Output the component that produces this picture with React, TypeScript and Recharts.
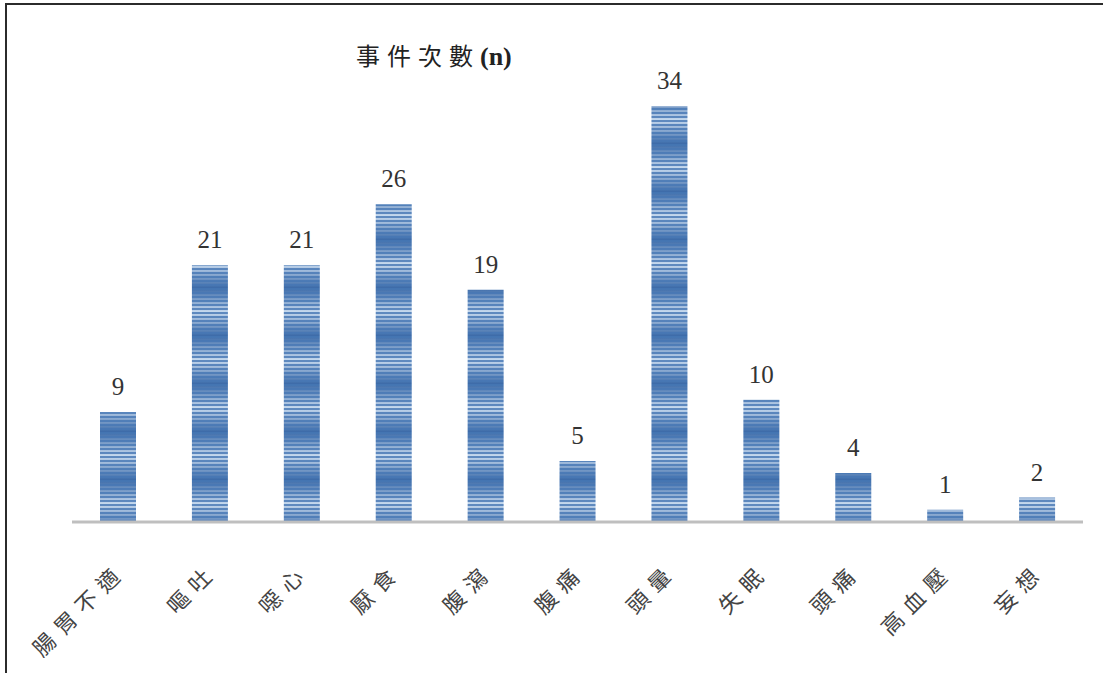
import React from 'react';
import { BarChart, Bar, XAxis, YAxis, LabelList } from 'recharts';

const categories = ['腸胃不適', '嘔吐', '噁心', '厭食', '腹瀉', '腹痛', '頭暈', '失眠', '頭痛', '高血壓', '妄想'];
const counts = [9, 21, 21, 26, 19, 5, 34, 10, 4, 1, 2];

const data = categories.map((name, i) => ({ name, count: counts[i] }));

const CategoryTick = (props: any) => {
  const { x, y, payload } = props;
  const ax = x + 2;
  const ay = y + 44;
  return (
    <text
      x={ax}
      y={ay}
      transform={`rotate(-45, ${ax}, ${ay})`}
      textAnchor="end"
      dominantBaseline="central"
      fill="#444"
      fontSize={22}
      letterSpacing={8}
      fontFamily='"Noto Sans CJK TC", serif'
    >
      {payload.value}
    </text>
  );
};

export default function App() {
  return (
    <div style={{ position: 'absolute', left: 0, top: 0, width: 1103, height: 673, background: '#fff', overflow: 'hidden' }}>
      {/* frame: top and left edges only */}
      <div style={{ position: 'absolute', left: 5, top: 3, width: 1110, height: 690, borderTop: '2px solid #2b2b2b', borderLeft: '2px solid #2b2b2b' }} />
      <div
        style={{
          position: 'absolute',
          left: 356,
          top: 37,
          fontSize: 24,
          color: '#222',
          fontFamily: '"Liberation Serif", "Noto Sans CJK TC", serif',
          whiteSpace: 'nowrap',
        }}
      >
        <span style={{ letterSpacing: 7 }}>事件次數</span>
        <span style={{ fontSize: 26, fontWeight: 'bold' }}>(n)</span>
      </div>
      <BarChart
        width={1103}
        height={673}
        data={data}
        margin={{ top: 33, right: 20, left: 72, bottom: 0 }}
        style={{ position: 'absolute', left: 0, top: 0 }}
      >
        <defs>
          <linearGradient id="barShade" x1="0" y1="0" x2="0" y2="48" gradientUnits="userSpaceOnUse">
            <stop offset="0%" stopColor="#3b6aa8" />
            <stop offset="50%" stopColor="#c6d9ee" />
            <stop offset="100%" stopColor="#3b6aa8" />
          </linearGradient>
          <pattern id="barStripes" x="0" y="0" width="10" height="48" patternUnits="userSpaceOnUse">
            <rect x="0" y="0" width="10" height="48" fill="url(#barShade)" />
            {Array.from({ length: 12 }).map((_, i) => (
              <rect key={i} x="0" y={i * 4} width="10" height="2" fill="#4677b4" opacity={0.8} />
            ))}
          </pattern>
        </defs>
        <XAxis
          dataKey="name"
          height={151}
          interval={0}
          tickLine={false}
          tickSize={0}
          tickMargin={0}
          axisLine={{ stroke: '#bfbfbf', strokeWidth: 3 }}
          tick={<CategoryTick />}
        />
        <YAxis hide domain={[0, 40]} />
        <Bar dataKey="count" barSize={36} fill="url(#barStripes)" isAnimationActive={false}>
          <LabelList
            dataKey="count"
            position="top"
            offset={17}
            fill="#333"
            fontSize={25}
            fontFamily='"Liberation Serif", serif'
          />
        </Bar>
      </BarChart>
    </div>
  );
}
